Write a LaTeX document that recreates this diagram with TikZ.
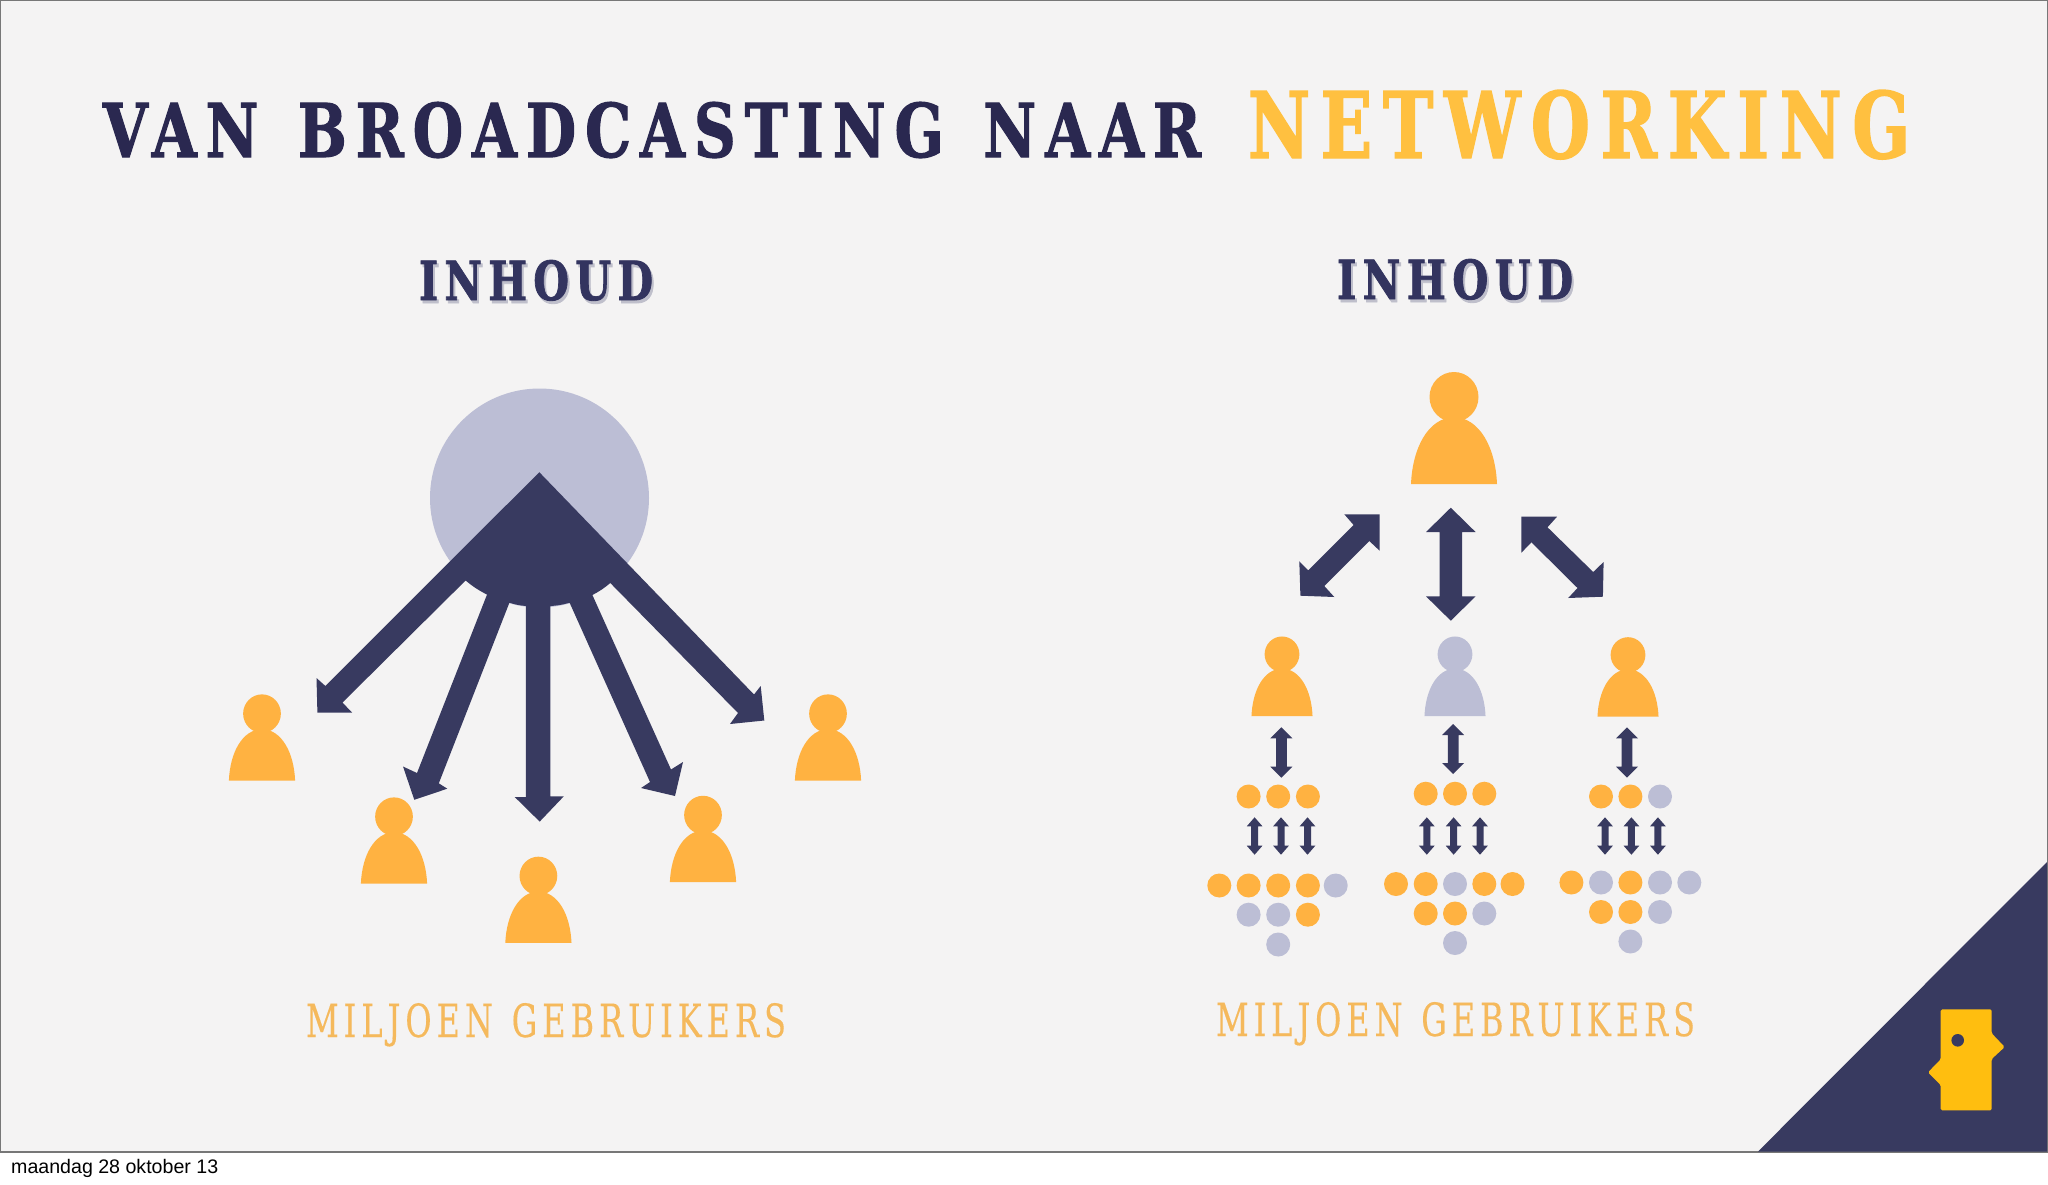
\documentclass[tikz,border=0pt]{standalone}
\usepackage{fontspec}
\usepackage{graphicx}
\setmainfont{Liberation Sans}
\newfontfamily\slabwide[LetterSpace=14,BoldFont={DejaVu Serif Condensed Bold},BoldFeatures={FakeBold=1.6}]{DejaVu Serif Condensed}
\newfontfamily\slabthin[LetterSpace=14,FakeBold=0.3]{DejaVu Serif Condensed}
\definecolor{pagebg}{HTML}{F4F3F3}
\definecolor{navy}{HTML}{383A60}
\definecolor{titlenavy}{HTML}{2A2850}
\definecolor{inhoudnavy}{HTML}{33345F}
\definecolor{shadowgrey}{HTML}{BFBFCB}
\definecolor{amber}{HTML}{FFB241}
\definecolor{titleamber}{HTML}{FFC040}
\definecolor{textamber}{HTML}{F5B95C}
\definecolor{lilac}{HTML}{BCBED5}
\definecolor{logoyellow}{HTML}{FFBE0F}
\definecolor{framegrey}{HTML}{777777}
\tikzset{
  fitlabel/.style={inner sep=0pt,outer sep=0pt,anchor=base west},
  arrowfill/.style={fill=navy,draw=none},
  dotO/.style={fill=amber,draw=none},
  dotG/.style={fill=lilac,draw=none}
}
% person: centre x, base y, scale, colour
\newcommand{\personfig}[4]{%
  \begin{scope}[shift={(#1,#2)},scale=#3]
    \fill[#4] (0,-87) ellipse (24.5 and 25);
    \fill[#4] (-43,0) .. controls (-41.5,-36) and (-26,-66) .. (0,-67)
      .. controls (26,-66) and (41.5,-36) .. (43,0) -- cycle;
  \end{scope}}
% vertical double arrow: centre x, top, bottom, head width, head length, shaft width
\newcommand{\dblarrow}[6]{%
  \fill[arrowfill] (#1,#2) -- ({#1-#4/2},{#2+#5}) -- ({#1-#6/2},{#2+#5})
    -- ({#1-#6/2},{#3-#5}) -- ({#1-#4/2},{#3-#5}) -- (#1,#3)
    -- ({#1+#4/2},{#3-#5}) -- ({#1+#6/2},{#3-#5}) -- ({#1+#6/2},{#2+#5})
    -- ({#1+#4/2},{#2+#5}) -- cycle;}
\begin{document}
\begin{tikzpicture}[x=1pt,y=-1pt]
\useasboundingbox (0,0) rectangle (2048,1184);
\fill[white] (0,0) rectangle (2048,1184);
\fill[pagebg] (0,0) rectangle (2048,1152);
\draw[framegrey,line width=1.4pt] (0.5,1152) -- (0.5,0.5) -- (2047.5,0.5) -- (2047.5,1152) -- cycle;

% corner and logo
\fill[navy] (1758,1151.5) -- (2047,862) -- (2047,1151.5) -- cycle;
\fill[logoyellow,rounded corners=1.5pt] (1940.7,1009.3) -- (1991.7,1009.3) -- (1991.7,1033.3)
  -- (2004.7,1047) -- (1991.7,1059) -- (1991.7,1110.3) -- (1940.7,1110.3) -- (1940.7,1085)
  -- (1928,1072.3) -- (1940.7,1059.3) -- cycle;
\fill[navy] (1957.7,1040.3) circle (6.3);

% titles
\node[fitlabel,text=titlenavy] (title1) at (103,157)
  {\resizebox{1098pt}{55pt}{\slabwide\bfseries VAN\hspace{1.6pt} BROADCASTING\hspace{1.6pt} NAAR}};
\node[fitlabel,text=titleamber] (title2) at (1248,158)
  {\resizebox{662pt}{68pt}{\slabwide\bfseries NETWORKING}};
\node[fitlabel,text=shadowgrey] (shadow1) at (421,303)
  {\resizebox{234pt}{40pt}{\slabwide\bfseries INHOUD}};
\node[fitlabel,text=shadowgrey] (shadow2) at (1339,302)
  {\resizebox{236pt}{40pt}{\slabwide\bfseries INHOUD}};
\node[fitlabel,text=inhoudnavy] (inhoudL) at (419,300)
  {\resizebox{234pt}{40pt}{\slabwide\bfseries INHOUD}};
\node[fitlabel,text=inhoudnavy] (inhoudR) at (1337,299)
  {\resizebox{236pt}{40pt}{\slabwide\bfseries INHOUD}};
\node[fitlabel,text=textamber] (usersL) at (306,1037)
  {\resizebox{480pt}{34pt}{\slabthin MILJOEN\hspace{1pt} GEBRUIKERS}};
\node[fitlabel,text=textamber] (usersR) at (1216,1036)
  {\resizebox{479pt}{34pt}{\slabthin MILJOEN\hspace{1pt} GEBRUIKERS}};
\node[inner sep=0pt,anchor=base west,font=\fontsize{19.6}{22}\selectfont] (datelabel) at (11,1173) {maandag 28 oktober 13};

% left: broadcast
\fill[lilac] (539.5,498) circle (109.5);
\fill[arrowfill] (539.3,472.2) -- (325.4,686) -- (316.5,678) -- (317.4,712.5) -- (352.2,712.5)
  -- (342.4,702.6) -- (465.6,580.5) to[bend right=6] (487,594.6)
  -- (417,773) -- (403,766.5) -- (414.3,799.8) -- (447.3,788.7) -- (438.8,783.3)
  -- (509.4,602.7) to[bend right=6] (525.9,606)
  -- (525.9,797) -- (514.7,797) -- (539.7,821.6) -- (563.8,796.3) -- (550.4,796.3)
  -- (550.4,606) to[bend right=6] (569.6,602.7)
  -- (650,782) -- (641,788) -- (675,796) -- (683,762) -- (671,769.5)
  -- (592.4,595) to[bend right=6] (610.3,583)
  -- (738,713) -- (730,724) -- (764.3,720.5) -- (760.7,686) -- (754,694.5) -- cycle;
\personfig{262}{780.6}{0.77}{amber}
\personfig{394}{883.6}{0.77}{amber}
\personfig{538.4}{942.9}{0.77}{amber}
\personfig{703}{882}{0.77}{amber}
\personfig{828}{780.6}{0.77}{amber}

% right: network
\personfig{1454}{484}{1}{amber}
\personfig{1282}{716}{0.71}{amber}
\personfig{1455}{716}{0.71}{lilac}
\personfig{1628}{716.7}{0.71}{amber}
\dblarrow{1450.8}{507.7}{620.7}{49.5}{24.3}{22.5}
\fill[arrowfill] (1379.6,514.3) -- (1344.3,514.3) -- (1353.6,525) -- (1308.2,570.3) -- (1299.3,561.3)
  -- (1300.4,595.7) -- (1334.3,597) -- (1324.3,586) -- (1369.3,541) -- (1379.6,550.7) -- cycle;
\fill[arrowfill] (1521.4,516.7) -- (1557,516.7) -- (1547.5,527.3) -- (1593.2,572) -- (1603.6,562)
  -- (1602.9,596.7) -- (1568.2,598) -- (1577.5,588) -- (1531.4,542.3) -- (1521.4,552.7) -- cycle;
\dblarrow{1281.4}{727.3}{777.7}{22}{11}{10.7}
\dblarrow{1453.2}{724}{774}{22}{11}{10.7}
\dblarrow{1627}{727.3}{777.7}{22}{11}{10.7}
\foreach \ax in {1254.6,1281,1307.5,1426.8,1453.6,1480,1605,1631.4,1657.9}
  {\dblarrow{\ax}{817.3}{854.7}{15.7}{9}{7}}
\foreach \dx/\dy/\ds in {
  1248.6/796.5/dotO,1278.2/796.5/dotO,1307.9/796.5/dotO,
  1219.3/885.5/dotO,1248.6/885.5/dotO,1278.2/885.5/dotO,1307.9/885.5/dotO,1335.7/885.5/dotG,
  1248.6/914.7/dotG,1278.2/914.7/dotG,1307.9/914.7/dotO,1278.2/944.5/dotG,
  1425.7/793.7/dotO,1455/793.7/dotO,1484.3/793.7/dotO,
  1396/884/dotO,1425.7/884/dotO,1455/884/dotG,1484.3/884/dotO,1512.5/884/dotO,
  1425.7/913.5/dotO,1455/913.5/dotO,1484.3/913.5/dotG,1455/943/dotG,
  1601/796.5/dotO,1630.4/796.5/dotO,1660/796.5/dotG,
  1571.4/882.5/dotO,1601/882.5/dotG,1630.4/882.5/dotO,1660/882.5/dotG,1689.3/882.5/dotG,
  1601/912/dotO,1630.4/912/dotO,1660/912/dotG,1630.4/941.5/dotG}
  {\fill[\ds] (\dx,\dy) circle (12);}
\end{tikzpicture}
\end{document}
